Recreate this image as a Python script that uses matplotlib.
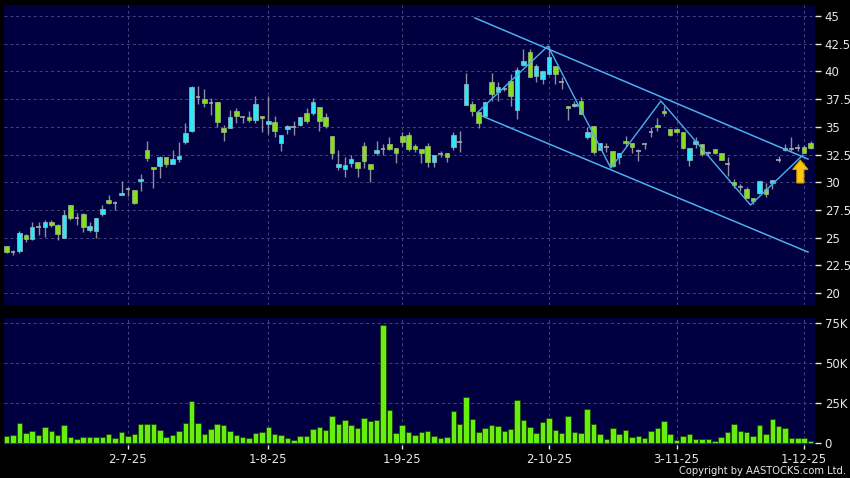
import matplotlib
matplotlib.use("Agg")
import matplotlib.pyplot as plt
from matplotlib.patches import Polygon
import numpy as np

# daily candles (oldest first)
opens = [24.2, 23.7, 23.8, 25.2, 24.9, 25.96, 25.96, 26.4, 26.17, 25.0,
         27.9, 26.8, 27.16, 25.72, 25.6, 27.1, 28.4, 28.1, 28.84, 29.4,
         29.3, 30.1, 32.9, 31.35, 31.5, 32.26, 31.66, 32.1, 33.66, 34.64,
         37.66, 37.48, 37.18, 37.2, 34.86, 34.86, 36.45, 35.9, 35.9, 35.6,
         35.97, 35.25, 35.46, 33.56, 34.77, 35.0, 35.16, 36.27, 36.27, 36.75,
         35.85, 34.17, 31.4, 31.16, 31.76, 31.79, 33.26, 31.6, 32.6, 32.96,
         33.44, 33.05, 34.17, 34.3, 33.26, 32.96, 33.26, 31.85, 32.54, 32.6,
         33.14, 33.65, 36.96, 37.1, 36.36, 35.94, 39.0, 38.1, 38.4, 39.16,
         36.54, 40.6, 41.78, 39.55, 39.3, 39.76, 40.5, 39.0, 36.9, 36.9,
         37.35, 34.05, 35.04, 32.9, 33.14, 32.84, 32.24, 33.7, 33.5, 32.83,
         33.43, 34.49, 35.15, 36.47, 34.79, 34.79, 34.55, 32.02, 33.43, 33.43,
         32.62, 32.98, 32.68, 31.63, 30.03, 29.6, 29.43, 28.62, 29.07, 29.37,
         29.97, 32.02, 32.9, 33.04, 33.13, 33.19, 33.5]
highs = [24.25, 23.9, 25.6, 25.36, 26.4, 26.4, 26.6, 26.55, 26.26, 27.46,
         27.9, 27.2, 27.2, 26.4, 26.8, 27.9, 28.87, 28.27, 30.07, 29.6,
         29.3, 30.77, 33.7, 31.4, 32.4, 32.3, 32.9, 33.6, 35.3, 38.68,
         38.68, 38.38, 37.57, 37.2, 35.17, 36.5, 36.67, 35.9, 36.45, 37.8,
         35.97, 37.8, 35.97, 34.26, 35.16, 35.55, 35.85, 36.67, 37.57, 36.75,
         36.27, 34.17, 32.9, 32.24, 32.45, 31.79, 33.65, 31.6, 33.7, 33.44,
         34.1, 33.05, 34.56, 34.56, 33.44, 32.96, 33.56, 32.45, 32.84, 32.6,
         34.56, 34.65, 39.85, 37.35, 36.36, 37.2, 39.85, 39.0, 38.7, 39.76,
         40.36, 42.0, 42.0, 40.66, 40.06, 42.3, 40.5, 39.46, 36.9, 37.35,
         37.66, 34.95, 35.04, 33.5, 33.54, 32.84, 32.6, 34.2, 33.5, 32.98,
         33.58, 34.94, 35.75, 36.9, 34.79, 34.79, 34.55, 33.07, 34.04, 33.43,
         32.83, 33.04, 32.68, 32.23, 30.27, 29.82, 29.6, 28.62, 30.12, 29.97,
         30.2, 32.32, 33.43, 34.04, 33.43, 33.34, 33.74]
lows = [23.6, 23.4, 23.6, 24.6, 24.8, 25.2, 25.1, 25.96, 24.8, 25.0,
        26.56, 26.1, 25.5, 25.5, 25.0, 26.95, 28.0, 27.46, 28.84, 28.8,
        28.0, 29.2, 31.9, 29.5, 30.4, 31.4, 31.6, 31.8, 33.45, 34.5,
        37.1, 36.82, 36.06, 34.95, 33.74, 34.86, 35.37, 35.3, 35.4, 35.3,
        34.55, 34.35, 34.04, 32.84, 34.35, 34.26, 35.07, 35.37, 36.06, 34.65,
        34.86, 32.06, 31.1, 30.43, 31.4, 30.43, 31.25, 30.04, 32.45, 32.45,
        32.9, 31.76, 33.26, 32.84, 32.75, 31.76, 31.4, 31.4, 32.24, 31.85,
        32.9, 32.7, 36.96, 35.94, 34.86, 35.94, 37.36, 37.36, 38.2, 36.9,
        35.7, 40.5, 39.46, 39.0, 38.86, 39.76, 38.86, 38.4, 35.64, 36.75,
        36.15, 33.9, 32.54, 32.9, 32.7, 31.34, 31.64, 33.3, 32.6, 31.93,
        32.98, 34.04, 34.64, 35.99, 34.13, 34.4, 32.98, 31.42, 33.13, 32.38,
        32.38, 32.53, 31.98, 30.57, 29.52, 29.22, 28.53, 28.0, 28.9, 28.7,
        29.37, 31.78, 32.83, 32.83, 32.83, 32.62, 33.04]
closes = [23.7, 23.7, 25.45, 24.9, 25.96, 25.96, 26.4, 26.15, 25.3, 27.07,
          26.8, 26.8, 25.96, 26.08, 26.8, 27.6, 28.1, 28.1, 29.05, 29.4,
          28.1, 30.3, 32.2, 31.2, 32.26, 31.66, 32.1, 32.4, 34.41, 38.56,
          37.66, 37.12, 37.18, 35.46, 34.56, 35.85, 35.97, 35.9, 35.6, 37.1,
          35.76, 35.5, 34.65, 34.26, 35.07, 35.0, 35.85, 35.55, 37.27, 35.55,
          35.07, 32.66, 31.64, 31.55, 32.09, 31.25, 31.9, 31.16, 32.9, 32.96,
          33.02, 32.6, 33.65, 32.96, 32.96, 32.66, 31.85, 32.45, 32.54, 32.24,
          34.26, 33.65, 38.86, 36.4, 35.34, 37.2, 37.96, 38.56, 38.4, 37.75,
          40.15, 40.96, 39.46, 40.45, 40.06, 41.27, 39.76, 39.0, 36.66, 37.1,
          36.15, 34.5, 32.7, 33.5, 33.14, 31.43, 32.6, 33.5, 33.2, 32.83,
          33.43, 34.49, 34.94, 36.23, 34.25, 34.49, 33.13, 33.07, 33.73, 32.53,
          32.62, 32.68, 31.98, 31.63, 29.73, 29.6, 28.62, 28.32, 30.12, 28.92,
          30.2, 32.02, 33.13, 33.04, 33.13, 32.68, 33.13]

# volume in thousands of shares
volumes = [4.6, 5.0, 12.5, 6.25, 7.5, 5.4, 10.2, 7.9, 5.2, 11.25,
           4.0, 2.7, 3.75, 3.75, 3.75, 4.0, 5.6, 3.3, 6.9, 4.8,
           5.6, 12.1, 12.1, 12.3, 8.1, 4.0, 5.0, 7.7, 12.7, 26.5,
           12.5, 6.0, 9.2, 12.3, 11.25, 7.7, 5.4, 4.0, 3.3, 6.25,
           7.1, 10.2, 6.0, 5.4, 3.3, 2.1, 4.8, 4.8, 8.75, 10.2,
           8.3, 17.1, 12.3, 14.6, 11.25, 9.6, 15.8, 14.2, 14.6, 74.0,
           20.6, 6.7, 11.7, 7.1, 5.2, 6.9, 7.5, 4.6, 3.1, 4.0,
           20.2, 12.1, 29.0, 15.0, 7.1, 9.8, 11.25, 10.8, 7.7, 8.75,
           26.9, 14.4, 10.4, 6.5, 13.5, 15.6, 8.3, 6.25, 17.1, 6.9,
           6.25, 21.5, 11.9, 5.6, 2.9, 9.8, 6.0, 8.1, 3.75, 4.8,
           3.3, 7.7, 9.4, 14.2, 5.6, 2.1, 4.4, 6.0, 2.9, 2.9,
           2.9, 1.25, 3.75, 6.9, 12.1, 7.5, 7.1, 4.4, 11.7, 6.0,
           15.0, 11.0, 9.4, 3.1, 3.1, 3.1, 1.25]

date_pos = [19, 41, 62, 85, 105, 125]
date_labels = ["2-7-25", "1-8-25", "1-9-25", "2-10-25", "3-11-25", "1-12-25"]
price_ticks = [20, 22.5, 25, 27.5, 30, 32.5, 35, 37.5, 40, 42.5, 45]
vol_ticks = [0, 25, 50, 75]
vol_labels = ["0", "25K", "50K", "75K"]

# hand drawn trend lines (candle index, price)
upper_x, upper_y = [73.4, 125.6], [44.82, 32.09]
lower_x, lower_y = [74.3, 125.6], [36.02, 23.70]
zig_x = [73.8, 84.85, 94.7, 102.55, 116.6, 124.8]
zig_y = [36.3, 42.29, 31.28, 37.33, 27.94, 32.45]

# colours
bg = "#000040"
grid_col = "#45457e"
up_col = "#2fe6f8"
down_col = "#84e01e"
doji_col = "#a8a8a8"
wick_col = "#8e8e9e"
line_col = "#4ab0ee"
text_col = "#e6e6e6"

o = np.array(opens)
h = np.array(highs)
l = np.array(lows)
c = np.array(closes)
x = np.arange(len(o))

fig = plt.figure(figsize=(8.5, 4.78), dpi=100, facecolor="black")
ax = fig.add_axes([4 / 850, 1 - 305 / 478, 811 / 850, 300 / 478])
axv = fig.add_axes([4 / 850, 1 - 445 / 478, 811 / 850, 127 / 478])

for a in (ax, axv):
    a.set_facecolor(bg)
    for s in a.spines.values():
        s.set_visible(False)
    a.set_xlim(-0.42, 126.7)
    a.set_axisbelow(True)
    a.yaxis.tick_right()
    a.tick_params(axis="y", colors=text_col, length=4, width=1, pad=3, labelsize=8.5)
    a.grid(True, color=grid_col, linestyle=(0, (3, 3)), linewidth=0.7)
    a.set_xticks(date_pos)

# ---- price panel ----
ax.set_ylim(18.92, 45.99)
ax.set_yticks(price_ticks)
ax.set_yticklabels(["%g" % t for t in price_ticks])
ax.tick_params(axis="x", length=0, labelbottom=False)

ax.vlines(x, l, h, color=wick_col, linewidth=1, zorder=2)
up = c > o
down = c < o
doji = c == o
w = 0.72
ax.bar(x[up], (c - o)[up], bottom=o[up], width=w, color=up_col,
       edgecolor="#9ab8c0", linewidth=0.5, zorder=3)
ax.bar(x[down], (o - c)[down], bottom=c[down], width=w, color=down_col,
       edgecolor="#a0b880", linewidth=0.5, zorder=3)
ax.hlines(c[doji], x[doji] - w / 2, x[doji] + w / 2, color=doji_col, linewidth=1.2, zorder=3)

ax.plot(upper_x, upper_y, color=line_col, linewidth=1.1, zorder=4)
ax.plot(lower_x, lower_y, color=line_col, linewidth=1.1, zorder=4)
ax.plot(zig_x, zig_y, color=line_col, linewidth=1.0, zorder=4)

# yellow arrow under the last candles
ax_x, tip, base = 124.4, 32.0, 29.93
hw, sw, hl = 1.2, 0.55, 0.85
arrow = Polygon([(ax_x, tip), (ax_x + hw, tip - hl), (ax_x + sw, tip - hl),
                 (ax_x + sw, base), (ax_x - sw, base), (ax_x - sw, tip - hl),
                 (ax_x - hw, tip - hl)], closed=True,
                facecolor="#f9c80e", edgecolor="#d89a00", linewidth=0.8, zorder=5)
ax.add_patch(arrow)

# ---- volume panel ----
axv.set_ylim(-1.06, 78.3)
axv.set_yticks(vol_ticks)
axv.set_yticklabels(vol_labels)
axv.bar(x, volumes, width=0.86, color="#66ee11", edgecolor="#1c3a00", linewidth=0.5, zorder=3)
axv.set_xticklabels(date_labels)
axv.tick_params(axis="x", colors=text_col, length=3, width=1, pad=3, labelsize=8.5)

fig.text(846 / 850, 1 - 471 / 478, "Copyright by AASTOCKS.com Ltd.", color=text_col,
         fontsize=7.2, ha="right", va="center")

fig.savefig("out.png", dpi=100, facecolor="black")
